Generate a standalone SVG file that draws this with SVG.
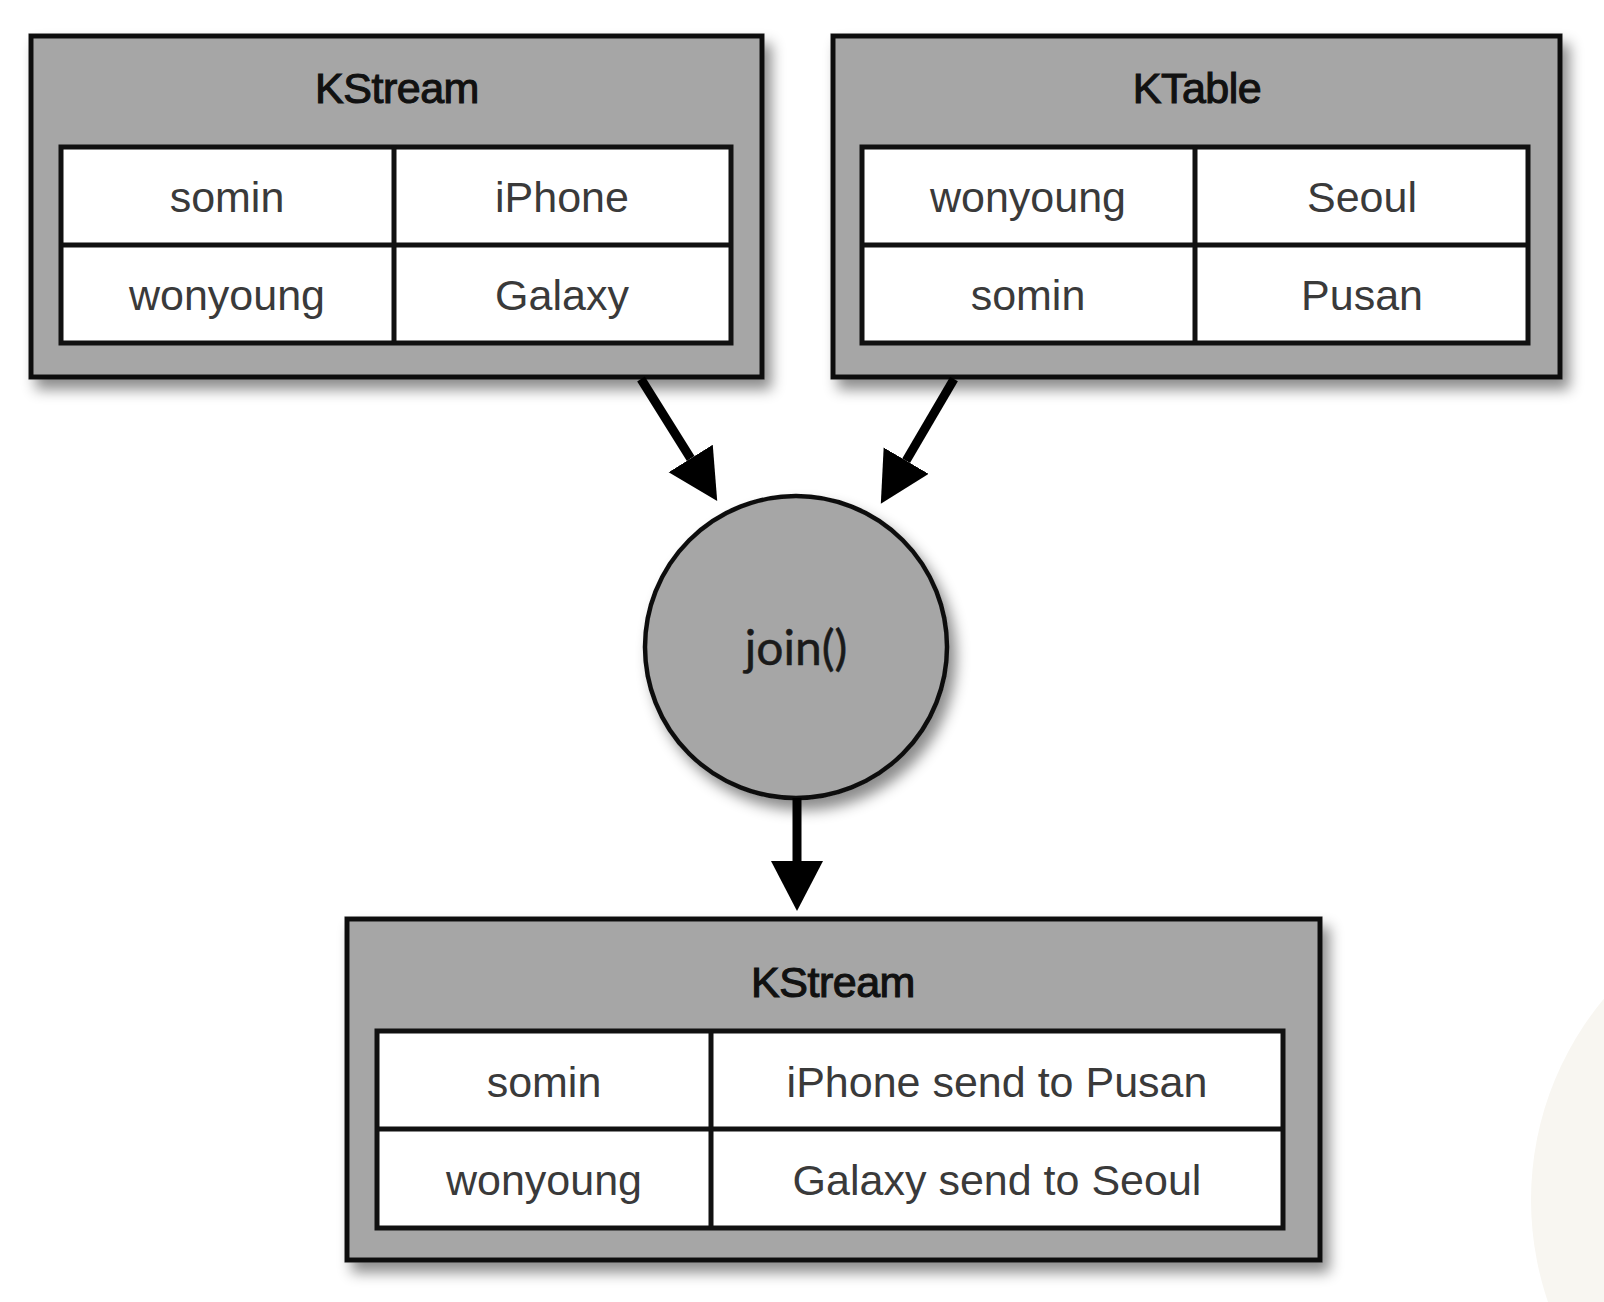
<svg xmlns="http://www.w3.org/2000/svg" width="1604" height="1302" viewBox="0 0 1604 1302">
<defs>
<filter id="sh" x="-10%" y="-10%" width="125%" height="135%">
<feDropShadow dx="7" dy="10" stdDeviation="7" flood-color="#000" flood-opacity="0.45"/>
</filter>
<marker id="ah" markerUnits="userSpaceOnUse" markerWidth="52" markerHeight="54" refX="0" refY="26" orient="auto" viewBox="0 0 52 54">
<path d="M0,0 L50,26 L0,52 z" fill="#000"/>
</marker>
<style>
.box{fill:#a6a6a6;stroke:#111;stroke-width:5;}
.tbl{fill:#fff;stroke:#111;stroke-width:5;}
.ln{stroke:#111;stroke-width:5;fill:none;}
.title{font-family:"Liberation Sans",Arial,sans-serif;font-size:43px;fill:#111;stroke:#111;stroke-width:1.1;text-anchor:middle;letter-spacing:-0.5px;}
.cell{font-family:"Liberation Sans",Arial,sans-serif;font-size:43px;fill:#3a3a3a;text-anchor:middle;}
.edge{stroke:#000;stroke-width:9;fill:none;marker-end:url(#ah);}
</style>
</defs>
<rect width="1604" height="1302" fill="#fff"/>
<circle cx="1845" cy="1200" r="314" fill="#f8f6f1"/>

<g id="kstream-in">
<rect class="box" x="31" y="36" width="731" height="341" filter="url(#sh)"/>
<text class="title" x="397" y="103">KStream</text>
<rect class="tbl" x="61" y="147" width="670" height="196"/>
<line class="ln" x1="394" y1="147" x2="394" y2="343"/>
<line class="ln" x1="61" y1="245" x2="731" y2="245"/>
<text class="cell" x="227" y="212">somin</text>
<text class="cell" x="562" y="212">iPhone</text>
<text class="cell" x="227" y="310">wonyoung</text>
<text class="cell" x="562" y="310">Galaxy</text>
</g>

<g id="ktable">
<rect class="box" x="833" y="36" width="727" height="341" filter="url(#sh)"/>
<text class="title" x="1197" y="103">KTable</text>
<rect class="tbl" x="862" y="147" width="666" height="196"/>
<line class="ln" x1="1195" y1="147" x2="1195" y2="343"/>
<line class="ln" x1="862" y1="245" x2="1528" y2="245"/>
<text class="cell" x="1028" y="212">wonyoung</text>
<text class="cell" x="1362" y="212">Seoul</text>
<text class="cell" x="1028" y="310">somin</text>
<text class="cell" x="1362" y="310">Pusan</text>
</g>

<g id="join">
<circle cx="796" cy="647" r="151" fill="#a6a6a6" stroke="#111" stroke-width="4.5" filter="url(#sh)"/>
<text x="796" y="665" font-family="Lato,'Liberation Sans',sans-serif" font-size="48" fill="#1a1a1a" stroke="#1a1a1a" stroke-width="0.5" text-anchor="middle">join()</text>
</g>

<g id="kstream-out">
<rect class="box" x="347" y="919" width="973" height="341" filter="url(#sh)"/>
<text class="title" x="833" y="997">KStream</text>
<rect class="tbl" x="377" y="1031" width="906" height="197"/>
<line class="ln" x1="711" y1="1031" x2="711" y2="1228"/>
<line class="ln" x1="377" y1="1129" x2="1283" y2="1129"/>
<text class="cell" x="544" y="1097">somin</text>
<text class="cell" x="997" y="1097">iPhone send to Pusan</text>
<text class="cell" x="544" y="1195">wonyoung</text>
<text class="cell" x="997" y="1195">Galaxy send to Seoul</text>
</g>

<g id="connectors">
<line class="edge" x1="641" y1="379" x2="690.7" y2="458.5"/>
<line class="edge" x1="954" y1="379" x2="906.1" y2="460.7"/>
<line class="edge" x1="797" y1="798" x2="797" y2="861"/>
</g>
</svg>
